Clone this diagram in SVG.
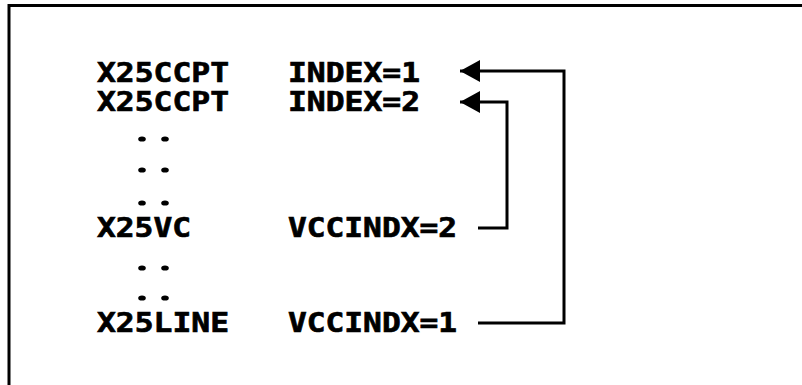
<svg xmlns="http://www.w3.org/2000/svg" width="802" height="385" viewBox="0 0 802 385">
  <style>
    .lbl { font-family: "DejaVu Sans Mono", "Liberation Mono", monospace; font-weight: bold; font-size: 27px; fill: #000; stroke: #000; stroke-width: 0.7; }
    .frame { stroke: #000; stroke-width: 3; fill: none; }
    .link { stroke: #000; stroke-width: 3; fill: none; stroke-linejoin: miter; stroke-linecap: butt; }
    .dot { fill: #000; }
  </style>
  <defs>
    <marker id="arrowhead" markerUnits="userSpaceOnUse" markerWidth="22" markerHeight="24" refX="20" refY="11" orient="auto">
      <path d="M0,0 L20,11 L0,22 Z" fill="#000"/>
    </marker>
  </defs>
  <rect width="802" height="385" fill="#fff"/>

  <!-- page frame: top and left edges -->
  <path class="frame" d="M9,385 L9,5.5 L802,5.5"/>

  <g id="row-x25ccpt-1">
    <text class="lbl" x="97" y="82" textLength="132" lengthAdjust="spacingAndGlyphs">X25CCPT</text>
    <text class="lbl" x="288" y="82" textLength="132" lengthAdjust="spacingAndGlyphs">INDEX=1</text>
  </g>
  <g id="row-x25ccpt-2">
    <text class="lbl" x="97" y="111" textLength="132" lengthAdjust="spacingAndGlyphs">X25CCPT</text>
    <text class="lbl" x="288" y="111" textLength="132" lengthAdjust="spacingAndGlyphs">INDEX=2</text>
  </g>
  <g id="row-x25vc">
    <text class="lbl" x="97" y="237" textLength="94" lengthAdjust="spacingAndGlyphs">X25VC</text>
    <text class="lbl" x="288" y="237" textLength="169" lengthAdjust="spacingAndGlyphs">VCCINDX=2</text>
  </g>
  <g id="row-x25line">
    <text class="lbl" x="97" y="332" textLength="132" lengthAdjust="spacingAndGlyphs">X25LINE</text>
    <text class="lbl" x="288" y="332" textLength="169" lengthAdjust="spacingAndGlyphs">VCCINDX=1</text>
  </g>

  <!-- vertical ellipsis marks between rows -->
  <g id="gaps">
    <ellipse class="dot" cx="142" cy="139" rx="3.8" ry="2.6"/>
    <ellipse class="dot" cx="165" cy="139" rx="3.8" ry="2.6"/>
    <ellipse class="dot" cx="142" cy="170" rx="3.8" ry="2.6"/>
    <ellipse class="dot" cx="165" cy="170" rx="3.8" ry="2.6"/>
    <ellipse class="dot" cx="142" cy="203" rx="3.8" ry="2.6"/>
    <ellipse class="dot" cx="165" cy="203" rx="3.8" ry="2.6"/>
    <ellipse class="dot" cx="142" cy="268" rx="3.8" ry="2.6"/>
    <ellipse class="dot" cx="165" cy="268" rx="3.8" ry="2.6"/>
    <ellipse class="dot" cx="142" cy="298" rx="3.8" ry="2.6"/>
    <ellipse class="dot" cx="165" cy="298" rx="3.8" ry="2.6"/>
  </g>

  <g id="connectors">
    <path class="link" d="M478,323 L564,323 L564,71 L460,71" marker-end="url(#arrowhead)"/>
    <path class="link" d="M478,228 L507,228 L507,102 L460,102" marker-end="url(#arrowhead)"/>
  </g>
</svg>
